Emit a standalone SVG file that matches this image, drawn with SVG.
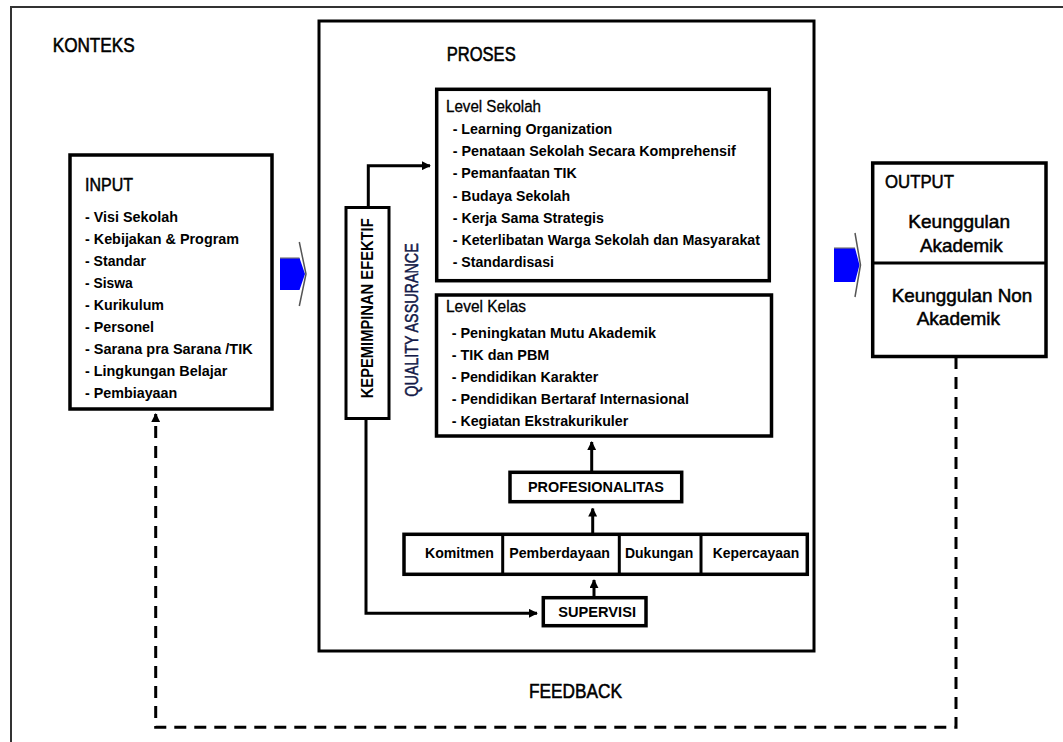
<svg xmlns="http://www.w3.org/2000/svg" width="1063" height="742" viewBox="0 0 1063 742">
<style>
text{font-family:"Liberation Sans",Arial,Helvetica,sans-serif;fill:#000}
.h{font-size:20px;stroke:#000;stroke-width:0.55}
.h2{font-size:18.5px;stroke:#000;stroke-width:0.5}
.lv{font-size:16px;stroke:#000;stroke-width:0.3}
.it{font-size:15px;font-weight:bold}
.bx{fill:#fff;stroke:#000;stroke-width:3.5}
.bx3{fill:#fff;stroke:#000;stroke-width:3}
.ln{fill:none;stroke:#000;stroke-width:3}
.dash{fill:none;stroke:#000;stroke-width:3;stroke-dasharray:12 8}
.blue{fill:#0000ff;stroke:none}
.head{fill:none;stroke:#555;stroke-width:1.5}
</style>
<defs>
<marker id="ah" viewBox="0 0 10 10" refX="9" refY="5" markerWidth="9" markerHeight="9" markerUnits="userSpaceOnUse" orient="auto">
<path d="M0,0 L10,5 L0,10 z" fill="#000"/>
</marker>
</defs>
<rect width="1063" height="742" fill="#fff"/>

<g id="konteks">
<path d="M11,750 V7 H1070" fill="none" stroke="#333" stroke-width="2"/>
<text class="h" x="52.7" y="52.3" textLength="82" lengthAdjust="spacingAndGlyphs">KONTEKS</text>
</g>

<g id="proses">
<rect class="bx3" x="319" y="21" width="495" height="630"/>
<text class="h" x="446.7" y="60.7" textLength="69" lengthAdjust="spacingAndGlyphs">PROSES</text>
</g>

<g id="input">
<rect class="bx" x="70" y="155" width="202" height="254"/>
<text class="h2" x="85" y="190.7" textLength="48" lengthAdjust="spacingAndGlyphs">INPUT</text>
<g class="it">
<text x="85" y="222" textLength="93" lengthAdjust="spacingAndGlyphs">- Visi Sekolah</text>
<text x="85" y="244" textLength="154" lengthAdjust="spacingAndGlyphs">- Kebijakan &amp; Program</text>
<text x="85" y="266" textLength="61" lengthAdjust="spacingAndGlyphs">- Standar</text>
<text x="85" y="288" textLength="47.7" lengthAdjust="spacingAndGlyphs">- Siswa</text>
<text x="85" y="310" textLength="79" lengthAdjust="spacingAndGlyphs">- Kurikulum</text>
<text x="85" y="332" textLength="69" lengthAdjust="spacingAndGlyphs">- Personel</text>
<text x="85" y="354" textLength="167.7" lengthAdjust="spacingAndGlyphs">- Sarana pra Sarana /TIK</text>
<text x="85" y="376" textLength="142.3" lengthAdjust="spacingAndGlyphs">- Lingkungan Belajar</text>
<text x="85" y="398" textLength="92.3" lengthAdjust="spacingAndGlyphs">- Pembiayaan</text>
</g>
</g>

<g id="kepemimpinan">
<rect class="bx3" x="346" y="207.5" width="43" height="211"/>
<text class="it" style="font-size:16.5px" transform="translate(373.3,398.3) rotate(-90)" textLength="180" lengthAdjust="spacingAndGlyphs">KEPEMIMPINAN EFEKTIF</text>
</g>

<g id="quality-assurance">
<text class="h2" style="fill:#141a48;stroke:#141a48" transform="translate(418.3,396.7) rotate(-90)" textLength="153.4" lengthAdjust="spacingAndGlyphs">QUALITY ASSURANCE</text>
</g>

<g id="level-sekolah">
<rect class="bx" x="436.7" y="89.3" width="332.6" height="191.4"/>
<text class="lv" x="446" y="111.7" textLength="95" lengthAdjust="spacingAndGlyphs">Level Sekolah</text>
<g class="it">
<text x="452.7" y="134" textLength="159.6" lengthAdjust="spacingAndGlyphs">- Learning Organization</text>
<text x="452.7" y="156.3" textLength="283" lengthAdjust="spacingAndGlyphs">- Penataan Sekolah Secara Komprehensif</text>
<text x="452.7" y="178.4" textLength="124" lengthAdjust="spacingAndGlyphs">- Pemanfaatan TIK</text>
<text x="452.7" y="200.5" textLength="117.3" lengthAdjust="spacingAndGlyphs">- Budaya Sekolah</text>
<text x="452.7" y="222.6" textLength="151.3" lengthAdjust="spacingAndGlyphs">- Kerja Sama Strategis</text>
<text x="452.7" y="244.7" textLength="307.3" lengthAdjust="spacingAndGlyphs">- Keterlibatan Warga Sekolah dan Masyarakat</text>
<text x="452.7" y="266.8" textLength="101.3" lengthAdjust="spacingAndGlyphs">- Standardisasi</text>
</g>
</g>

<g id="level-kelas">
<rect class="bx" x="436.5" y="295" width="335" height="141"/>
<text class="lv" x="446" y="311.7" textLength="80" lengthAdjust="spacingAndGlyphs">Level Kelas</text>
<g class="it">
<text x="451.7" y="337.5" textLength="204.3" lengthAdjust="spacingAndGlyphs">- Peningkatan Mutu Akademik</text>
<text x="451.7" y="359.6" textLength="97.6" lengthAdjust="spacingAndGlyphs">- TIK dan PBM</text>
<text x="451.7" y="381.7" textLength="146.6" lengthAdjust="spacingAndGlyphs">- Pendidikan Karakter</text>
<text x="451.7" y="403.8" textLength="237.3" lengthAdjust="spacingAndGlyphs">- Pendidikan Bertaraf Internasional</text>
<text x="451.7" y="425.9" textLength="176.6" lengthAdjust="spacingAndGlyphs">- Kegiatan Ekstrakurikuler</text>
</g>
</g>

<g id="profesionalitas">
<rect class="bx" x="510" y="472.3" width="171.7" height="29.4"/>
<text class="it" x="528" y="491.7" textLength="136" lengthAdjust="spacingAndGlyphs">PROFESIONALITAS</text>
</g>

<g id="nilai">
<rect class="bx" x="404" y="534.3" width="403.3" height="40"/>
<path class="ln" d="M502.7,534.3 V574.3 M619.3,534.3 V574.3 M701,534.3 V574.3"/>
<g class="it">
<text x="425" y="558.3" textLength="69" lengthAdjust="spacingAndGlyphs">Komitmen</text>
<text x="509.3" y="558.3" textLength="100.7" lengthAdjust="spacingAndGlyphs">Pemberdayaan</text>
<text x="625" y="558.3" textLength="68.3" lengthAdjust="spacingAndGlyphs">Dukungan</text>
<text x="712.7" y="558.3" textLength="86.6" lengthAdjust="spacingAndGlyphs">Kepercayaan</text>
</g>
</g>

<g id="supervisi">
<rect class="bx" x="543.3" y="597.7" width="102.7" height="28"/>
<text class="it" x="558.3" y="617.3" textLength="77.7" lengthAdjust="spacingAndGlyphs">SUPERVISI</text>
</g>

<g id="output">
<rect class="bx" x="872.7" y="163" width="173.3" height="193.5"/>
<path class="ln" d="M872.7,263 H1046"/>
<text class="h2" x="885" y="188.3" textLength="69" lengthAdjust="spacingAndGlyphs">OUTPUT</text>
<text class="h2" x="908.3" y="228" textLength="101.7" lengthAdjust="spacingAndGlyphs">Keunggulan</text>
<text class="h2" x="920" y="251.7" textLength="82.7" lengthAdjust="spacingAndGlyphs">Akademik</text>
<text class="h2" x="891.7" y="301.7" textLength="140.6" lengthAdjust="spacingAndGlyphs">Keunggulan Non</text>
<text class="h2" x="916.7" y="325" textLength="83.3" lengthAdjust="spacingAndGlyphs">Akademik</text>
</g>

<g id="feedback">
<text class="h" x="529" y="698" textLength="93" lengthAdjust="spacingAndGlyphs">FEEDBACK</text>
</g>

<g id="connectors">
<path class="ln" d="M368.3,207.5 V165.7 H430" marker-end="url(#ah)"/>
<path class="ln" d="M366,418.5 V613.3 H537" marker-end="url(#ah)"/>
<path class="ln" d="M594,597.7 V580" marker-end="url(#ah)"/>
<path class="ln" d="M592.7,534.3 V508.5" marker-end="url(#ah)"/>
<path class="ln" d="M591.7,472.3 V442" marker-end="url(#ah)"/>
<path class="dash" d="M956,357 V727.3 H155.7 V414" marker-end="url(#ah)"/>
<g id="arrow-in">
<polygon class="blue" points="280,258 299.5,258 305,274 299.5,290 280,290"/>
<path d="M280,258 H299.5" stroke="#777" stroke-width="1.2"/>
<polyline class="head" points="299.3,242 306,274 299.3,306"/>
</g>
<g id="arrow-out">
<polygon class="blue" points="834,248 855,248 859.5,265 855,282 834,282"/>
<path d="M834,248 H855" stroke="#777" stroke-width="1.2"/>
<polyline class="head" points="855,233 860.5,265 855,297"/>
</g>
</g>
</svg>
